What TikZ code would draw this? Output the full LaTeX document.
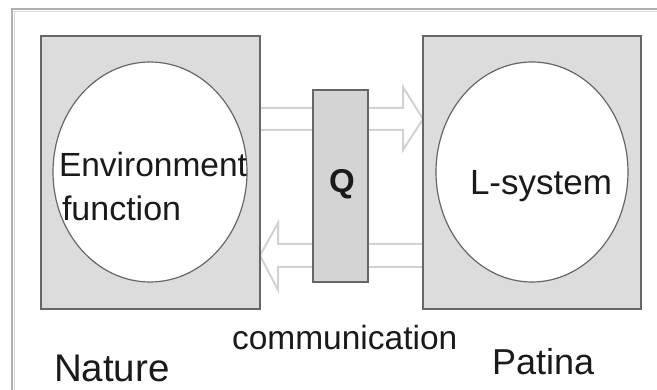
\documentclass[tikz,border=0pt]{standalone}
\usepackage{fontspec}
\setmainfont{Liberation Sans}
\usetikzlibrary{shapes.geometric}
\definecolor{boxfill}{HTML}{DCDCDC}
\definecolor{qfill}{HTML}{D4D4D4}
\definecolor{boxline}{HTML}{666666}
\definecolor{arrline}{HTML}{D2D2D2}
\definecolor{frameline}{HTML}{B0B0B0}
\definecolor{txt}{HTML}{1A1A1A}
\begin{document}
\begin{tikzpicture}[x=1pt,y=-1pt,
  sysbox/.style={draw=boxline,fill=boxfill,line width=2.5pt,minimum width=219pt,minimum height=273pt,inner sep=0pt,outer sep=0pt},
  qbox/.style={draw=boxline,fill=qfill,line width=2.5pt,minimum width=55pt,minimum height=192pt,inner sep=0pt,outer sep=0pt},
  inner/.style={draw=boxline,fill=white,line width=1.2pt,ellipse,inner sep=0pt,outer sep=0pt},
  blockarrow/.style={draw=arrline,fill=white,line width=2pt,line join=miter},
  lbl/.style={inner sep=0pt,outer sep=0pt,anchor=base west,text=txt},
]
\useasboundingbox (0,0) rectangle (657,390);
\fill[white] (0,0) rectangle (657,390);
% outer frame
\draw[frameline,line width=2.5pt] (12,400) -- (12,9) -- (670,9);
\draw[black!15,line width=1pt] (14.5,400) -- (14.5,11.5) -- (670,11.5);
% boxes
\node[sysbox] (L) at (150.5,172.5) {};
\node[sysbox,minimum width=218pt] (R) at (532,172.5) {};
% arrows
\draw[blockarrow] (L.east |- 0,108) -- (403,108) -- (403,87) -- (R.west |- 0,119) -- (403,150) -- (403,130) -- (L.east |- 0,130);
\draw[blockarrow] (R.west |- 0,244) -- (278,244) -- (278,223) -- (L.east |- 0,255.5) -- (278,290) -- (278,267) -- (R.west |- 0,267);
% redraw box borders on top of arrow ends
\draw[boxline,line width=2.5pt] (L.north east) -- (L.south east);
\draw[boxline,line width=2.5pt] (R.north west) -- (R.south west);
% ellipses
\node[inner,minimum width=194pt,minimum height=220pt] (LE) at (150,172) {};
\node[inner,minimum width=192pt,minimum height=220pt] (RE) at (532,172) {};
% Q box
\node[qbox] (Q) at (340.5,186) {};
% labels
\node[lbl,font=\fontsize{33.5}{40}\selectfont] (env) at (59,177) {Environment};
\node[lbl,font=\fontsize{34}{40}\selectfont] (fun) at (62,221) {function};
\node[lbl,font=\fontsize{35}{40}\selectfont] (ls) at (470,195) {L-system};
\node[lbl,font=\bfseries\fontsize{33}{40}\selectfont] (q) at (329,193) {Q};
\node[lbl,font=\fontsize{33.5}{40}\selectfont] (comm) at (232,350) {communication};
\node[lbl,font=\fontsize{38.5}{44}\selectfont] (nat) at (54,382) {Nature};
\node[lbl,font=\fontsize{36}{42}\selectfont] (pat) at (492,375) {Patina};
\end{tikzpicture}
\end{document}
